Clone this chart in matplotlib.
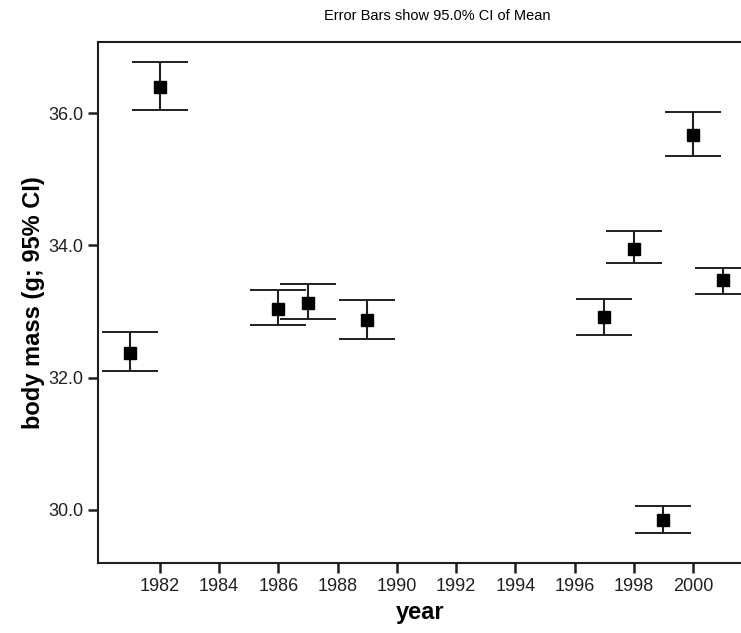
import matplotlib
matplotlib.use("Agg")
import matplotlib.pyplot as plt
from matplotlib import font_manager as fm

names = {f.name for f in fm.fontManager.ttflist}
narrow = "Liberation Sans Narrow" if "Liberation Sans Narrow" in names else "Liberation Sans"

years = [1981, 1982, 1986, 1987, 1989, 1997, 1998, 1999, 2000, 2001]
means = [32.37, 36.39, 33.04, 33.13, 32.87, 32.91, 33.94, 29.85, 35.67, 33.47]
upper = [32.69, 36.78, 33.32, 33.41, 33.17, 33.19, 34.22, 30.05, 36.02, 33.66]
lower = [32.10, 36.05, 32.80, 32.88, 32.58, 32.65, 33.73, 29.65, 35.35, 33.27]
xticks = list(range(1982, 2001, 2))
yticks = [30.0, 32.0, 34.0, 36.0]

fig = plt.figure(figsize=(7.41, 6.33), dpi=100)
ax = fig.add_axes([0.1327, 0.1111, 0.8673, 0.8230])

yerr = [[m - l for m, l in zip(means, lower)], [u - m for u, m in zip(upper, means)]]
ax.errorbar(years, means, yerr=yerr, fmt='s', color='black', ecolor='#202020',
            elinewidth=1.5, capsize=20, capthick=1.4, markersize=8)

ax.set_xlim(1979.92, 2001.62)
ax.set_ylim(29.20, 37.08)
ax.set_xticks(xticks)
ax.set_yticks(yticks)
ax.set_yticklabels([f"{v:.1f}" for v in yticks])

for s in ['left', 'bottom', 'top']:
    ax.spines[s].set_linewidth(1.5)
    ax.spines[s].set_color('#202020')
ax.spines['right'].set_visible(False)

ax.tick_params(axis='both', direction='out', length=7, width=1.8, color='#202020',
               labelsize=13, labelcolor='#202020')
ax.tick_params(axis='x', pad=4)
ax.tick_params(axis='y', pad=4)
for lab in ax.get_xticklabels() + ax.get_yticklabels():
    lab.set_fontfamily(narrow)

ax.set_xlabel("year", fontsize=17, fontweight='bold', family='Liberation Sans', labelpad=4)
ax.set_ylabel("body mass (g; 95% CI)", fontsize=17, fontweight='bold', family='Liberation Sans', labelpad=2)

fig.text(0.590, 0.975, "Error Bars show 95.0% CI of Mean", ha='center', va='center',
         fontsize=10.5, family=narrow)

fig.savefig("out.png", dpi=100)
